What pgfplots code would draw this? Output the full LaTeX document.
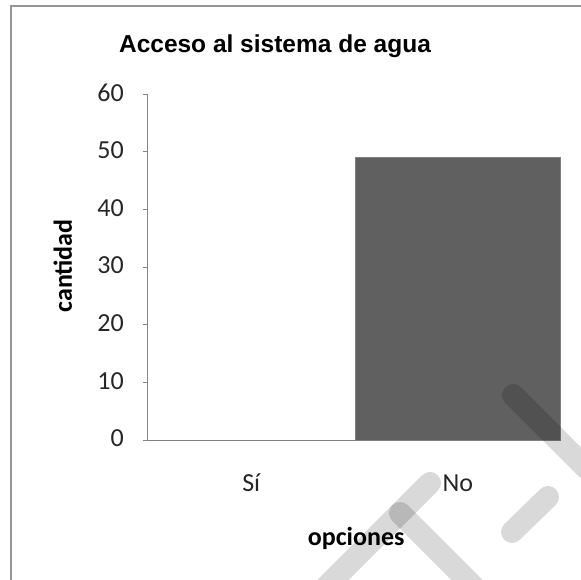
\documentclass[border=0pt]{standalone}
\usepackage{pgfplots}
\pgfplotsset{compat=1.18}
\usepackage{fontspec}
\setmainfont{Carlito}
\newfontfamily\arialf{Liberation Sans}
\definecolor{barra}{RGB}{96,96,96}
\definecolor{bordebarra}{RGB}{128,128,128}
\definecolor{ejes}{RGB}{134,134,134}
\definecolor{marco}{RGB}{150,150,150}
\definecolor{marca}{RGB}{217,217,217}
\begin{document}
\begin{tikzpicture}[x=1pt,y=1pt]
	\path[use as bounding box] (0,0) rectangle (581,-580);
	\clip (0,0) rectangle (581,-580);
	% chart frame (cut off at right and bottom)
	\draw[marco, line width=2.5pt] (11,-6) rectangle (620,-620);
	\begin{axis}[
		at={(148pt,-440pt)}, anchor=south west,
		scale only axis,
		width=413pt, height=346pt,
		xmin=-0.5, xmax=1.5,
		ymin=0, ymax=60,
		ytick={0,10,...,60},
		xtick={0,1},
		xticklabels={Sí,No},
		axis x line*=bottom,
		axis y line*=left,
		axis line style={ejes, line width=1pt, -},
		tick align=outside,
		major tick length=5pt,
		ytick style={ejes, line width=1pt},
		xtick style={draw=none},
		tick label style={font=\fontsize{26}{30}\selectfont, text=black!85},
		/pgf/number format/assume math mode=true,
		yticklabel style={anchor=east, inner sep=0pt, xshift=-19pt, yshift=1.5pt},
		xticklabel style={anchor=base, inner sep=0pt, yshift=-46pt},
		title={Acceso al sistema de agua},
		title style={font=\arialf\bfseries\fontsize{24.5}{28}\selectfont,
			at={(axis description cs:0.3075,1.102)}, anchor=base, inner sep=0pt},
		xlabel={opciones},
		xlabel style={font=\bfseries\fontsize{26}{30}\selectfont,
			at={(axis description cs:0.504,-0.3035)}, anchor=base, inner sep=0pt},
		ylabel={cantidad},
		ylabel style={font=\bfseries\fontsize{26}{30}\selectfont,
			at={(axis description cs:-0.206,0.503)}, anchor=center, inner sep=0pt},
		clip=false,
	]
	\addplot[ybar, bar width=205pt, fill=barra, draw=bordebarra, line width=0.8pt]
		coordinates {(0,0) (1,49)};
	\end{axis}
	% watermark strokes lying over the chart
	\begin{scope}[blend mode=multiply, marca, line width=22pt, line cap=round]
		\draw (513,-395) -- (660,-542);
		\draw (430,-483) -- (320,-593);
		\draw (400,-513) -- (490,-603);
		\draw (512,-532) -- (548,-497);
	\end{scope}
\end{tikzpicture}
\end{document}
